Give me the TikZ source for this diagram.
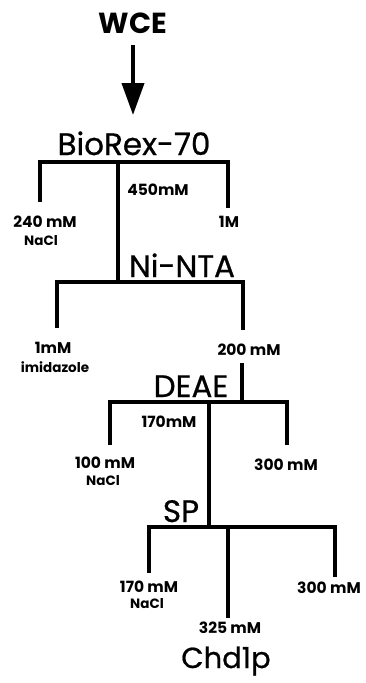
\documentclass[tikz,border=0pt]{standalone}
\usepackage{fontspec}
\setmainfont{Poppins}
\newfontfamily\colfont{Poppins}[FakeBold=0.7]
\usetikzlibrary{arrows.meta}

\begin{document}
\begin{tikzpicture}[
  x=1pt, y=-1pt,
  col/.style={font=\colfont\fontsize{31}{33}\selectfont, anchor=base, inner sep=0pt},
  conc/.style={font=\bfseries\fontsize{15.5}{17}\selectfont, anchor=base, inner sep=0pt},
  salt/.style={font=\bfseries\fontsize{13.5}{15}\selectfont, anchor=base, inner sep=0pt},
  tree/.style={line width=3.5pt, line join=miter},
  arr/.style={-{Triangle[length=32pt, width=22pt]}, line width=4pt}]

  \useasboundingbox (0,0) rectangle (365,683);

  % columns
  \node[col, font=\bfseries\fontsize{29}{31}\selectfont] (wce) at (133,33) {WCE};
  \node[col] (biorex) at (134,155) {BioRex-70};
  \node[col] (ninta) at (182,277) {Ni-NTA};
  \node[col] (deae) at (191,397) {DEAE};
  \node[col] (sp) at (181,522) {SP};
  \node[col, font=\colfont\fontsize{29}{31}\selectfont] (chd) at (226,668) {Chd1p};

  % split points
  \coordinate (tip) at (133,115);
  \coordinate (b1) at (40,162);  \coordinate (b2) at (118,162); \coordinate (b3) at (228,162);
  \coordinate (n1) at (57,282);  \coordinate (n2) at (118,282); \coordinate (n3) at (243,282);
  \coordinate (d1) at (110,402); \coordinate (d2) at (209,402); \coordinate (d3) at (287,402);
  \coordinate (din) at (242,402);
  \coordinate (s1) at (149,527); \coordinate (s2) at (209,527); \coordinate (s3) at (335,527);
  \coordinate (sout) at (228,527);

  % fractions
  \node[conc] (b-lo) at (45,227) {240 mM};
  \node[salt] at (41,245) {NaCl};
  \node[conc] (b-mid) at (158,195) {450mM};
  \node[conc] (b-hi) at (229,227) {1M};
  \node[conc] (n-lo) at (53,353) {1mM};
  \node[salt] at (55,372) {imidazole};
  \node[conc] (n-hi) at (249,355) {200 mM};
  \node[conc] (d-mid) at (169,427) {170mM};
  \node[conc] (d-lo) at (105,468) {100 mM};
  \node[salt] at (103,485) {NaCl};
  \node[conc] (d-hi) at (286,470) {300 mM};
  \node[conc] (s-lo) at (149,592) {170 mM};
  \node[salt] at (147,608) {NaCl};
  \node[conc] (s-mid) at (230,633) {325 mM};
  \node[conc] (s-hi) at (329,593) {300 mM};

  % flow
  \draw[arr] (wce.south) ++(0,12) -- (tip);
  \draw[tree] (b1) ++(0,40) -- (b1) -- (b3) -- ++(0,46);
  \draw[tree] (b2) -- (n2);
  \draw[tree] (n1) ++(0,46) -- (n1) -- (n3) -- ++(0,48);
  \draw[tree] (din) ++(0,-39) -- (din);
  \draw[tree] (d1) ++(0,43) -- (d1) -- (d3) -- ++(0,43);
  \draw[tree] (d2) -- (s2);
  \draw[tree] (s1) ++(0,46) -- (s1) -- (s3) -- ++(0,50);
  \draw[tree] (sout) -- ++(0,91);
\end{tikzpicture}
\end{document}
